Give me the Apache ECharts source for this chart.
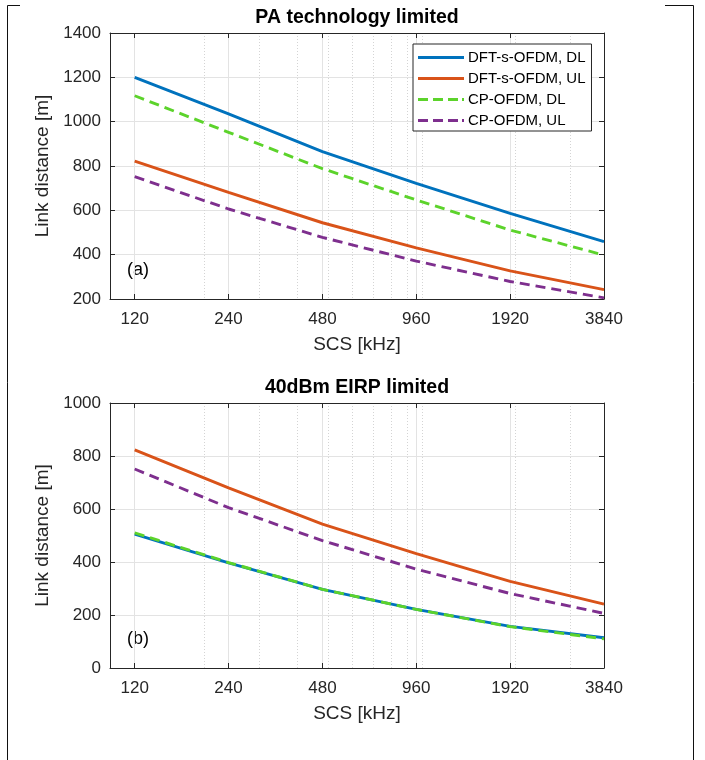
<!DOCTYPE html>
<html>
<head>
<meta charset="utf-8">
<script src="https://cdn.jsdelivr.net/npm/echarts@6/dist/echarts.min.js"></script>
<style>
html,body{margin:0;padding:0;background:#fff;}
#chart{width:705px;height:760px;}
</style>
</head>
<body>
<div id="chart"></div>
<script>
// ---- data ----
const scsTicks = [120, 240, 480, 960, 1920, 3840];
const scsMinorGrid = [200, 300, 400, 500, 600, 700, 800, 900, 1000, 2000, 3000];
const seriesNames = ['DFT-s-OFDM, DL', 'DFT-s-OFDM, UL', 'CP-OFDM, DL', 'CP-OFDM, UL'];
// (a) PA technology limited
const paDftDL = [1200, 1035, 865, 722, 586, 459];
const paDftUL = [822, 681, 544, 431, 327, 242];
const paCpDL  = [1117, 952, 788, 647, 511, 398];
const paCpUL  = [752, 606, 478, 371, 279, 205];
// (b) 40dBm EIRP limited
const eirpDftDL = [505, 397, 297, 221, 157, 114];
const eirpDftUL = [823, 680, 543, 432, 327, 241];
const eirpCpDL  = [510, 398, 297, 221, 156, 110];
const eirpCpUL  = [751, 605, 481, 373, 281, 206];
const titles = ['PA technology limited', '40dBm EIRP limited'];
const panelTags = ['(a)', '(b)'];
const xName = 'SCS [kHz]';
const yName = 'Link distance [m]';

// ---- styling ----
const FONT = 'Liberation Sans, Arial, Helvetica, sans-serif';
const AX = '#262626';
const GRID = '#e3e3e3';
const colors = ['#0072BD', '#D95319', '#5CD32B', '#7E2F8E'];
const dashed = [false, false, true, true];
const solidIcon = 'path://M0,0H46V3H0Z';
const dashIcon = 'path://M0,0H10V3H0Z M15,0H25V3H15Z M30,0H40V3H30Z M44,0H46V3H44Z';
const lg = v => Math.log10(v);
const xMin = lg(100), xMax = lg(3840);
const majors = scsTicks.map(lg);
const minors = scsMinorGrid.map(lg);

const grids = [
  {left: 110, top: 33, width: 494, height: 266},
  {left: 110, top: 403, width: 494, height: 265}
];
const yRanges = [{min: 200, max: 1400, interval: 200}, {min: 0, max: 1000, interval: 200}];

const xAxes = [], yAxes = [];
grids.forEach((g, gi) => {
  // minor dotted grid
  xAxes.push({type: 'value', gridIndex: gi, min: xMin, max: xMax, position: 'bottom',
    axisLine: {show: false}, axisLabel: {show: false},
    axisTick: {show: false, customValues: minors},
    splitLine: {show: true, lineStyle: {color: '#d4d4d4', width: 1, type: [1, 2]}}});
  // main bottom axis
  xAxes.push({type: 'value', gridIndex: gi, min: xMin, max: xMax, position: 'bottom',
    name: xName, nameLocation: 'middle', nameGap: 36,
    nameTextStyle: {fontFamily: FONT, fontSize: 19, color: AX},
    axisLine: {show: true, onZero: false, lineStyle: {color: AX, width: 1}},
    axisTick: {show: true, inside: true, length: 5, customValues: majors, lineStyle: {color: AX}},
    axisLabel: {show: true, customValues: majors, margin: 12, fontFamily: FONT, fontSize: 17, color: AX,
      formatter: v => String(Math.round(Math.pow(10, v)))},
    splitLine: {show: true, lineStyle: {color: GRID, width: 1}}});
  // top box axis
  xAxes.push({type: 'value', gridIndex: gi, min: xMin, max: xMax, position: 'top',
    axisLine: {show: true, onZero: false, lineStyle: {color: AX, width: 1}},
    axisTick: {show: true, inside: true, length: 5, customValues: majors, lineStyle: {color: AX}},
    axisLabel: {show: false}, splitLine: {show: false}});
  const r = yRanges[gi];
  yAxes.push({type: 'value', gridIndex: gi, min: r.min, max: r.max, interval: r.interval, position: 'left',
    name: yName, nameLocation: 'middle', nameGap: 40, nameRotate: 90,
    nameTextStyle: {fontFamily: FONT, fontSize: 19, color: AX},
    axisLine: {show: true, onZero: false, lineStyle: {color: AX, width: 1}},
    axisTick: {show: true, inside: true, length: 5, lineStyle: {color: AX}},
    axisLabel: {margin: 9, fontFamily: FONT, fontSize: 17, color: AX, formatter: v => String(v)},
    splitLine: {show: true, lineStyle: {color: GRID, width: 1}}});
  yAxes.push({type: 'value', gridIndex: gi, min: r.min, max: r.max, interval: r.interval, position: 'right',
    axisLine: {show: true, onZero: false, lineStyle: {color: AX, width: 1}},
    axisTick: {show: true, inside: true, length: 5, lineStyle: {color: AX}},
    axisLabel: {show: false}, splitLine: {show: false}});
});

const panelData = [
  [paDftDL, paDftUL, paCpDL, paCpUL],
  [eirpDftDL, eirpDftUL, eirpCpDL, eirpCpUL]
];
const series = [];
panelData.forEach((arrs, gi) => {
  arrs.forEach((vals, si) => {
    series.push({
      type: 'line', name: seriesNames[si],
      xAxisIndex: gi * 3 + 1, yAxisIndex: gi * 2,
      data: scsTicks.map((s, i) => [lg(s), vals[i]]),
      symbol: 'none', showSymbol: false, silent: true, animation: false,
      z: 3 + si,
      lineStyle: {color: colors[si], width: 2.9, type: dashed[si] ? [10, 6] : 'solid', cap: 'butt'},
      itemStyle: {color: colors[si]}
    });
  });
});

const graphic = [];
// page frame
graphic.push({type: 'polyline', silent: true, shape: {points: [[20, 5.5], [7.5, 5.5], [7.5, 760]]}, style: {stroke: '#111', lineWidth: 1, fill: null}});
graphic.push({type: 'polyline', silent: true, shape: {points: [[665, 5.5], [693.5, 5.5], [693.5, 760]]}, style: {stroke: '#111', lineWidth: 1, fill: null}});
grids.forEach((g, gi) => {
  graphic.push({type: 'text', silent: true, x: g.left + g.width / 2, y: g.top - 15,
    style: {text: titles[gi], fontFamily: FONT, fontSize: 19.5, fontWeight: 'bold', fill: '#000', align: 'center', verticalAlign: 'middle'}});
  graphic.push({type: 'text', silent: true, x: 127, y: g.top + g.height - 29,
    style: {text: panelTags[gi], fontFamily: FONT, fontSize: 18, fill: '#000', align: 'left', verticalAlign: 'middle'}});
});

const chart = echarts.init(document.getElementById('chart'), null, {renderer: 'canvas'});
chart.setOption({
  backgroundColor: '#fff',
  animation: false,
  textStyle: {fontFamily: FONT},
  grid: grids.map(g => Object.assign({containLabel: false}, g)),
  xAxis: xAxes,
  yAxis: yAxes,
  legend: {
    data: seriesNames.map((n, i) => ({name: n, icon: dashed[i] ? dashIcon : solidIcon, itemStyle: {color: colors[i]}})),
    orient: 'vertical', left: 413, top: 44,
    itemWidth: 46, itemHeight: 12, itemGap: 6, padding: [6, 6, 3, 5],
    backgroundColor: '#fff', borderColor: AX, borderWidth: 1, borderRadius: 0,
    selectedMode: false, symbolKeepAspect: true,
    textStyle: {fontFamily: FONT, fontSize: 15, color: '#000', padding: [0, 0, 0, -1]}
  },
  series: series,
  graphic: graphic
});
</script>
</body>
</html>
